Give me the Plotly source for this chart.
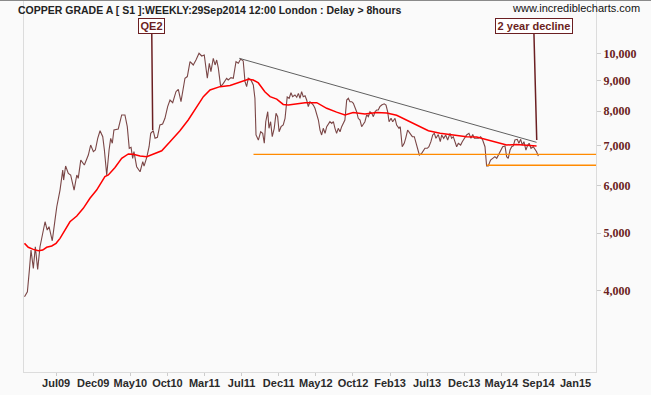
import numpy as np
import pandas as pd
import plotly.graph_objects as go

# ---------------- data ----------------
start_date = "2009-04-13"          # week 0 (weekly bars, last bar 29 Sep 2014)

price_weeks = [0.0, 1.6, 2.7, 3.6, 4.9, 6.0, 7.3, 8.6, 11.4, 12.6, 13.6, 15.4, 16.9, 17.9, 19.7,
               21.2, 21.7, 22.8, 24.3, 25.6, 27.5, 29.0, 29.8, 31.2, 33.2, 35.4, 36.7, 38.2, 39.3,
               40.6, 41.9, 43.4, 44.3, 45.6, 46.9, 47.8, 48.7, 49.6, 52.0, 53.9, 55.7, 57.0, 58.1,
               59.1, 60.0, 60.7, 62.2, 64.1, 65.6, 66.3, 67.8, 69.1, 70.0, 71.4, 72.4, 73.7, 75.1,
               76.6, 77.9, 79.4, 80.7, 82.2, 84.0, 85.3, 86.8, 89.0, 90.3, 91.8, 92.7, 93.6, 95.1,
               96.8, 98.3, 99.7, 101.4, 102.5, 103.4, 104.7, 105.7, 106.6, 107.5, 108.8, 110.3,
               112.1, 113.0, 114.5, 115.8, 117.3, 118.6, 119.9, 121.3, 122.3, 123.2, 124.1, 125.6,
               126.9, 127.8, 128.4, 129.7, 131.0, 132.1, 133.0, 133.8, 134.9, 135.6, 136.5, 137.4,
               138.5, 139.5, 140.4, 141.2, 142.3, 143.5, 144.5, 145.7, 146.8, 147.8, 148.7, 150.0,
               151.0, 151.9, 152.8, 153.7, 154.6, 155.6, 156.5, 157.4, 158.3, 159.3, 160.2, 161.1,
               162.1, 163.0, 163.9, 164.8, 165.7, 166.7, 167.6, 168.5, 169.4, 170.4, 171.3, 172.2,
               173.1, 174.0, 175.0, 175.9, 176.8, 177.7, 178.7, 179.6, 180.5, 181.5, 182.4, 183.3,
               184.2, 185.1, 186.1, 187.0, 187.9, 188.8, 189.8, 190.7, 191.6, 192.6, 193.5, 194.4,
               195.3, 196.2, 197.1, 198.1, 199.5, 200.5, 201.4, 202.2, 203.3, 204.2, 205.5, 206.4,
               207.7, 208.4, 209.5, 210.6, 211.4, 212.5, 213.8, 215.1, 216.2, 217.0, 218.1, 219.0,
               220.3, 221.2, 222.1, 223.4, 224.3, 225.4, 226.4, 227.3, 228.2, 229.5, 230.6, 231.4,
               232.5, 233.6, 234.7, 236.0, 236.9, 237.8, 238.8, 239.7, 240.6, 241.9, 242.8, 243.9,
               245.2, 246.5, 247.6, 248.6, 249.5, 251.7, 253.0, 254.1, 255.4, 256.3, 257.2, 258.5,
               260.0, 260.9, 261.9, 262.8, 264.1, 265.2, 266.5, 267.4, 268.3, 269.3, 270.2, 271.1,
               272.0, 273.3, 274.2, 275.2, 276.1, 277.0, 278.1, 279.1, 279.9, 280.9, 282.2, 283.1,
               284.0, 285.0]
price_values = [3910, 3985, 4334, 4682, 4363, 4743, 4346, 4743, 5222, 5057, 5123, 4853, 5256, 5534, 5901,
                6374, 6133, 6474, 6294, 6254, 5901, 6254, 6174, 6625, 6500, 6755, 7020, 6842, 6886,
                7205, 7418, 7250, 6886, 6254, 6886, 7205, 7068, 7438, 7468, 7883, 7883, 7535, 6932,
                6959, 6669, 6842, 6457, 6333, 6583, 6474, 6695, 6975, 7345, 7418, 7205, 7233, 7584,
                7614, 7783, 8139, 8351, 8266, 8624, 8704, 8297, 9082, 9142, 9682, 9623, 9560, 9745,
                10000, 9897, 9935, 9082, 9623, 9316, 9810, 9560, 9745, 9442, 8793, 8906,
                9082, 9022, 9104, 9082, 9682, 9623, 9783, 9710, 8964, 8793, 9082, 9022,
                8851, 8407, 7298, 7157, 7390, 7345, 7068, 7681, 7983, 7488, 7681, 7250,
                7488, 7933, 7832, 7390, 7535, 7584, 7783, 8450, 8407, 8590, 8460, 8516,
                8440, 8568, 8407, 8624, 8460, 8488, 8351, 8139, 8297, 8244, 8192, 8088,
                7933, 7731, 7438, 7298, 7488, 7345, 7535, 7632, 7681, 7632, 7681, 7488,
                7345, 7488, 7390, 7535, 7632, 7731, 8351, 8407, 8297, 8297, 8244, 8139,
                7983, 7783, 7731, 7535, 7632, 7681, 7883, 7832, 7983, 7933, 7832, 7983,
                8035, 8035, 8139, 8192, 8230, 8192, 7983, 7681, 7783, 7681, 7783, 7584,
                7488, 7535, 6975, 7068, 7205, 7438, 7345, 7250, 7250, 7111, 6886, 6755,
                6798, 6886, 6932, 6932, 6975, 7111, 7298, 7345, 7205, 7310, 7111, 7298,
                7205, 7298, 7157, 7345, 7205, 7250, 7111, 6975, 7068, 7020, 7111, 7205,
                7298, 7345, 7205, 7310, 7205, 7205, 7250, 7157, 6975, 6474, 6474, 6625,
                6669, 6712, 6669, 6755, 6842, 6975, 6995, 6712, 6669, 6886, 6975, 6995,
                7157, 7176, 7068, 7176, 7020, 7111, 6886, 7020, 7068, 6932, 6975, 6904,
                6842, 6726]

ma_weeks = [0.0, 2.1, 4.9, 7.7, 10.1, 12.3, 15.1, 17.5, 19.7, 22.5, 25.2, 29.0, 32.6, 36.3, 40.0,
            42.8, 44.6, 46.5, 50.2, 53.9, 57.6, 60.3, 64.1, 67.8, 71.4, 76.1, 80.7, 86.2, 90.8,
            95.5, 99.2, 102.9, 108.4, 114.0, 119.6, 124.1, 126.9, 129.7, 133.3, 136.2, 139.9,
            143.5, 146.3, 149.6, 155.6, 162.1, 167.6, 173.1, 177.7, 182.3, 188.8, 195.3, 200.9,
            206.4, 212.0, 217.5, 224.0, 230.5, 237.8, 245.2, 250.8, 256.3, 261.9, 267.4, 272.9,
            278.5, 284.0]
ma_values = [4805, 4732, 4695, 4669, 4682, 4732, 4756, 4805, 4898, 5057, 5222, 5338, 5500, 5717, 5901,
             6092, 6214, 6254, 6437, 6669, 6782, 6773, 6729, 6712, 6773, 6867, 7111, 7418, 7731,
             8139, 8460, 8680, 8793, 8834, 8960, 9046, 9022, 8920, 8624, 8460, 8380,
             8211, 8192, 8211, 8266, 8266, 8088, 7970, 7883, 7957, 7914, 7957, 7945,
             7874, 7731, 7584, 7418, 7345, 7290, 7250, 7240, 7171, 7087, 7020, 7034,
             7020, 6995]

trend_weeks = [119.1, 284.0]
trend_values = [9809, 7094]

support_upper_start_week, support_upper_value = 127.0, 6773
support_lower_start_week, support_lower_value = 256.3, 6494

qe2_week, qe2_value = 71.1, 7440
decline_week, decline_value = 284.1, 7158

x_tick_labels = ["Jul09", "Dec09", "May10", "Oct10", "Mar11", "Jul11", "Dec11", "May12",
                 "Oct12", "Feb13", "Jul13", "Dec13", "May14", "Sep14", "Jan15"]
x_tick_first_week, x_tick_step_weeks = 17.53, 20.58
y_tick_values = [4000, 5000, 6000, 7000, 8000, 9000, 10000]
y_tick_labels = ["4,000", "5,000", "6,000", "7,000", "8,000", "9,000", "10,000"]

x_range_weeks = [-0.28, 316.97]
y_range_log = [3.4662, 4.0876]

title_text = "COPPER GRADE A [ S1 ]:WEEKLY:29Sep2014 12:00 London : Delay > 8hours"
site_text = "www.incrediblecharts.com"

# ---------------- helpers ----------------
t0 = pd.Timestamp(start_date)


def wk(w):
    return t0 + pd.to_timedelta(np.asarray(w, dtype=float) * 7.0, unit="D")


MAROON = "#6b1f22"
BG = "#fafafa"
PLOT_TOP, PLOT_BOTTOM, PLOT_LEFT, PLOT_RIGHT = 1, 372, 24, 596

fig = go.Figure()

fig.add_trace(go.Scatter(x=wk(price_weeks), y=price_values, mode="lines",
                         line=dict(color="#7a4646", width=1.1), hoverinfo="skip"))
fig.add_trace(go.Scatter(x=wk(ma_weeks), y=ma_values, mode="lines",
                         line=dict(color="#ff0000", width=1.5), hoverinfo="skip"))
fig.add_trace(go.Scatter(x=wk(trend_weeks), y=trend_values, mode="lines",
                         line=dict(color="#606060", width=1), hoverinfo="skip"))
fig.add_trace(go.Scatter(x=wk([support_upper_start_week, x_range_weeks[1]]),
                         y=[support_upper_value, support_upper_value], mode="lines",
                         line=dict(color="#ff8a00", width=1.3), hoverinfo="skip"))
fig.add_trace(go.Scatter(x=wk([support_lower_start_week, x_range_weeks[1]]),
                         y=[support_lower_value, support_lower_value], mode="lines",
                         line=dict(color="#ff8a00", width=1.3), hoverinfo="skip"))

tick_weeks = [x_tick_first_week + k * x_tick_step_weeks for k in range(len(x_tick_labels))]

fig.update_layout(
    width=651, height=395, autosize=False,
    margin=dict(l=PLOT_LEFT, r=651 - PLOT_RIGHT, t=PLOT_TOP, b=395 - PLOT_BOTTOM, pad=0),
    paper_bgcolor=BG, plot_bgcolor=BG,
    showlegend=False,
    xaxis=dict(type="date", range=list(wk(x_range_weeks)), tickvals=list(wk(tick_weeks)),
               ticktext=x_tick_labels, showgrid=False, zeroline=False, automargin=False,
               showline=True, linecolor="#dcdcdc", linewidth=1,
               ticks="outside", ticklen=3, tickcolor="#cccccc", ticklabelstandoff=-2,
               tickfont=dict(family="Liberation Sans", size=11, color="#2a2a2a", weight="bold")),
    yaxis=dict(type="log", range=y_range_log, side="right", tickvals=y_tick_values,
               ticktext=y_tick_labels, showgrid=False, zeroline=False, automargin=False,
               showline=True, mirror=True, linecolor="#dcdcdc", linewidth=1,
               ticks="outside", ticklen=4, tickcolor="#cccccc",
               tickfont=dict(family="Liberation Serif", size=12, color=MAROON, weight="bold")),
)

PW = float(PLOT_RIGHT - PLOT_LEFT)
PH = float(PLOT_BOTTOM - PLOT_TOP)


def px_to_paper(px, py):
    return (px - PLOT_LEFT) / PW, (PLOT_BOTTOM - py) / PH


# top border line of the page
fig.add_shape(type="line", xref="paper", yref="paper",
              x0=px_to_paper(0, 0)[0], x1=px_to_paper(651, 0)[0],
              y0=px_to_paper(0, 0.5)[1], y1=px_to_paper(0, 0.5)[1],
              line=dict(color="#8a8a8a", width=1))

tx, ty = px_to_paper(15.5, 9.5)
fig.add_annotation(text=title_text, xref="paper", yref="paper", x=tx, y=ty,
                   xanchor="left", yanchor="middle", showarrow=False,
                   font=dict(family="Liberation Sans", size=10.5, color="#222222", weight="bold"))
sx, sy = px_to_paper(642, 8.5)
fig.add_annotation(text=site_text, xref="paper", yref="paper", x=sx, y=sy,
                   xanchor="right", yanchor="middle", showarrow=False,
                   font=dict(family="Liberation Sans", size=11, color="#111111"))

box_font = dict(family="Liberation Sans", size=11, color=MAROON, weight="bold")
fig.add_annotation(text="QE2", x=wk([qe2_week])[0], y=np.log10(qe2_value), xref="x", yref="y",
                   showarrow=True, arrowhead=0, arrowwidth=1.5, arrowcolor=MAROON,
                   ax=-1, ay=-104, font=box_font, bordercolor=MAROON, borderwidth=1,
                   borderpad=0, width=25, height=14, bgcolor="#ffffff")
fig.add_annotation(text="2 year decline", x=wk([decline_week])[0], y=np.log10(decline_value),
                   xref="x", yref="y",
                   showarrow=True, arrowhead=0, arrowwidth=1.5, arrowcolor=MAROON,
                   ax=-3, ay=-114, font=box_font, bordercolor=MAROON, borderwidth=1,
                   borderpad=0, width=76, height=14, bgcolor="#ffffff")

fig.write_html("out.html", config={"displayModeBar": False},
               post_script="document.body.style.margin='0';document.body.style.overflow='hidden';")
